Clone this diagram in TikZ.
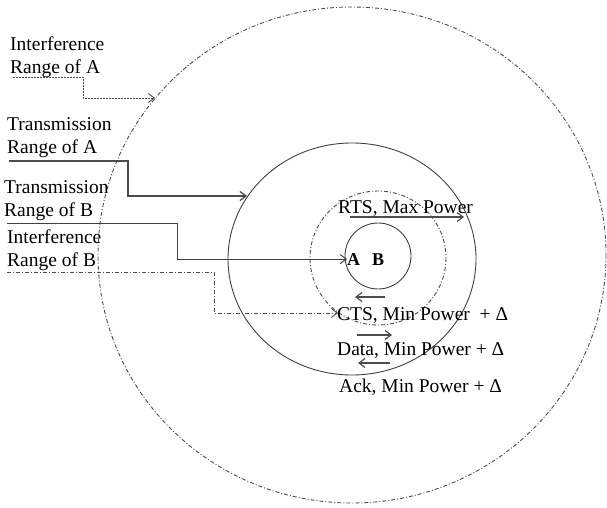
\documentclass[tikz,border=0pt]{standalone}
\usepackage{fontspec}
\setmainfont{Liberation Serif}
\usetikzlibrary{positioning,arrows.meta}

\begin{document}
\begin{tikzpicture}[x=1pt, y=-1pt,
  lbl/.style={anchor=base west, inner sep=0pt, align=left, font=\fontsize{19.5}{23}\selectfont},
  dashdot/.style={black!70, line width=0.9pt, dash pattern=on 4pt off 2pt on 1pt off 2pt},
  ring/.style={black!75, line width=0.9pt},
  tip/.style={-{Straight Barb[length=6pt,width=9pt]}}]
\useasboundingbox (0,0) rectangle (607,508);

% ranges
\draw[dashdot] (352,255) ellipse (254 and 248);
\draw[ring] (352,259) ellipse (124 and 116);
\draw[dashdot] (378,258) ellipse (68 and 67);
\draw[ring] (378,256) circle (33);

% labels (base = last line)
\node[lbl] (intA) at (10,74) {Interference\\Range of A};
\node[lbl] (txA) at (7,153) {Transmission\\Range of A};
\node[lbl] (txB) at (4,216) {Transmission\\Range of B};
\node[lbl] (intB) at (7,266) {Interference\\Range of B};

\node[lbl, font=\fontsize{18}{20}\selectfont\bfseries] (a) at (347,265) {A};
\node[lbl, font=\fontsize{18}{20}\selectfont\bfseries] (b) at (372,265) {B};

\node[lbl] (rts) at (338,213) {RTS, Max Power};
\node[lbl] (cts) at (337,320) {CTS, Min Power~ + Δ};
\node[lbl] (data) at (337,355) {Data, Min Power + Δ};
\node[lbl] (ack) at (339,392) {Ack, Min Power + Δ};

% connector ends
\coordinate (intAfrom) at (13,77);
\coordinate (intAto) at (155,98);
\coordinate (txAfrom) at (9,161);
\coordinate (txAto) at (247,196);
\coordinate (txBfrom) at (7,223);
\coordinate (intBfrom) at (7,272);
\coordinate (intBto) at (338,313);

\draw[tip, black!70, line width=0.9pt, dash pattern=on 2pt off 1pt] (intAfrom) -- ++(70,0) |- (intAto);
\draw[tip, black!70, line width=1.3pt] (txAfrom) -- ++(119,0) |- (txAto);
\draw[tip, black!75, line width=1pt] (txBfrom) -- ++(170,0) |- (a.west);
\draw[tip, dashdot] (intBfrom) -- ++(207,0) |- (intBto);

% messages
\draw[tip, black!70, line width=1.2pt] (350,217) -- (464,217);
\draw[tip, black!70, line width=1.2pt] (385,297) -- (355,297);
\draw[tip, black!70, line width=1.2pt] (357,335) -- (392,335);
\draw[tip, black!70, line width=1.2pt] (390,363) -- (358,363);

\end{tikzpicture}
\end{document}
